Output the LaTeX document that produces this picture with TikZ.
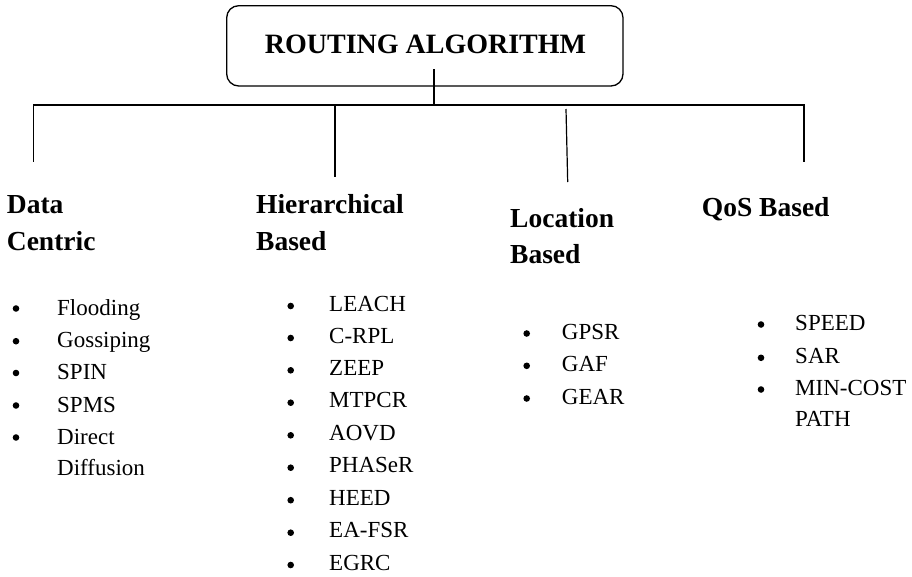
\documentclass[tikz,border=0pt]{standalone}
\usepackage{fontspec}
\setmainfont{Liberation Serif}
\begin{document}
\begin{tikzpicture}[x=1pt,y=-1pt,
  heading/.style={anchor=base west, inner sep=0pt, font=\fontsize{27.5}{27.5}\selectfont\bfseries},
  titletext/.style={anchor=base, inner sep=0pt, font=\fontsize{28}{28}\selectfont\bfseries},
  item/.style={anchor=base west, inner sep=0pt, font=\fontsize{23}{23}\selectfont},
  dot/.style={circle, fill=black, inner sep=0pt, minimum size=6.6pt},
  wire/.style={line width=1.2pt, black},
  buswire/.style={line width=1.6pt, black}]
\useasboundingbox (0,0) rectangle (912,576);

% root box and its title
\node[draw, line width=1.3pt, rounded corners=12pt, minimum width=396.3pt,
      minimum height=80.3pt, inner sep=0pt] (root) at (424.85,45.85) {};
\node[titletext] (roottitle) at (425.5,53) {ROUTING ALGORITHM};

% tree connectors
\coordinate (stem) at (434,69.4);
\coordinate (hub) at (434,104.7);
\coordinate (d1top) at (33.3,104.7);
\coordinate (d1bot) at (33.3,161.7);
\coordinate (d2top) at (335,104.7);
\coordinate (d2bot) at (335,177);
\coordinate (d3top) at (566,109);
\coordinate (d3bot) at (567.7,182);
\coordinate (d4top) at (803.7,104.7);
\coordinate (d4bot) at (803.7,162);

\draw[buswire] (d1bot) -- (d1top) -- (d4top) -- (d4bot);
\draw[wire] (stem) -- (hub);
\draw[wire] (d2top) -- (d2bot);
\draw[wire] (d3top) -- (d3bot);

% category headings
\node[heading] (h1a) at (6.7,213.3) {Data};
\node[heading] (h1b) at (6.7,250) {Centric};
\node[heading] (h2a) at (256,213.3) {Hierarchical};
\node[heading] (h2b) at (256,250) {Based};
\node[heading] (h3a) at (510,227.7) {Location};
\node[heading] (h3b) at (510,263.3) {Based};
\node[heading] (h4a) at (701.7,216.7) {QoS Based};

% Data Centric list
\foreach \t/\y [count=\i] in {Flooding/315, Gossiping/347.7, SPIN/379.5, SPMS/412, Direct/444} {
  \node[dot] (dcb\i) at (16,\y-6.5) {};
  \node[item] (dci\i) at (57,\y) {\t};
}
\node[item] (dci6) at (57,475.5) {Diffusion};

% Hierarchical list
\foreach \t/\y [count=\i] in {LEACH/311, C-RPL/343, ZEEP/375.3, MTPCR/407.7, AOVD/440.3, PHASeR/472.7, HEED/505.2, EA-FSR/537.7, EGRC/570} {
  \node[dot] (hib\i) at (290.7,\y-5) {};
  \node[item] (hii\i) at (329,\y) {\t};
}

% Location list
\foreach \t/\y [count=\i] in {GPSR/339, GAF/371.3, GEAR/404} {
  \node[dot] (lob\i) at (526.7,\y-5.5) {};
  \node[item] (loi\i) at (561.7,\y) {\t};
}

% QoS list
\foreach \t/\y [count=\i] in {SPEED/330, SAR/363.3, MIN-COST/395} {
  \node[dot] (qob\i) at (761,\y-5.5) {};
  \node[item] (qoi\i) at (795,\y) {\t};
}
\node[item] (qoi4) at (795,426) {PATH};
\end{tikzpicture}
\end{document}
